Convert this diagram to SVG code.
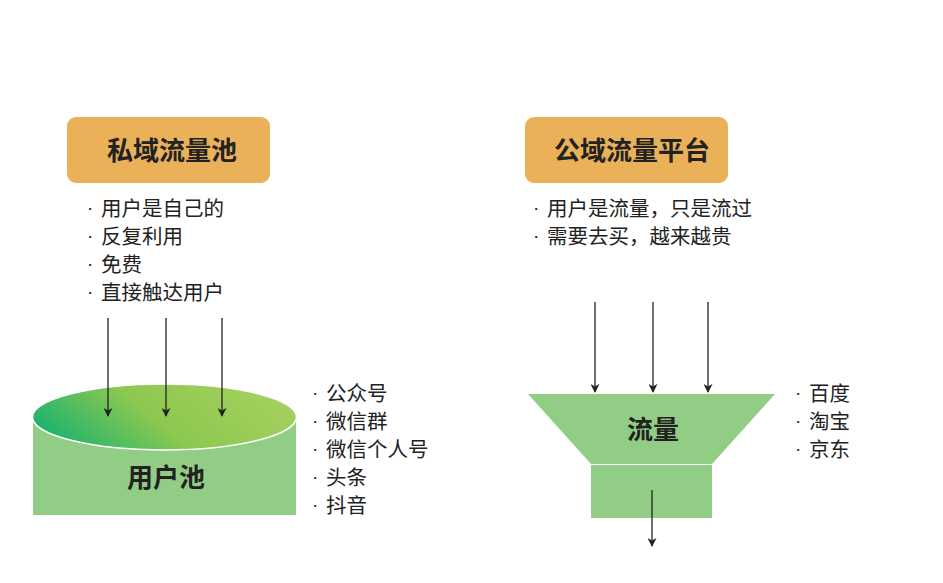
<svg xmlns="http://www.w3.org/2000/svg" width="943" height="583" viewBox="0 0 943 583">
<style>
text{font-family:"Noto Sans CJK SC","Noto Sans",sans-serif;fill:#222}
.h{font-size:26px;font-weight:bold}
.l{font-size:20.5px}
.b{font-size:19px;font-family:"Liberation Sans",sans-serif}
.c{stroke:#222;stroke-width:1.3;fill:none;marker-end:url(#a)}
.g{fill:#92CD86}
</style>
<defs>
<marker id="a" viewBox="0 0 10 10" refX="9" refY="5" markerWidth="9" markerHeight="9" markerUnits="userSpaceOnUse" orient="auto"><path d="M0,0L10,5L0,10L3,5z" fill="#222"/></marker>
<linearGradient id="gr" x1="0" y1="0.6" x2="1" y2="0.3"><stop offset="0" stop-color="#1BB36E"/><stop offset="0.45" stop-color="#8DC850"/><stop offset="1" stop-color="#A6D15E"/></linearGradient>
</defs>
<rect width="943" height="583" fill="#fff"/>
<g id="private-label"><rect x="67" y="117" width="203" height="66" rx="9" fill="#EBB158"/><text class="h" x="172" y="160" text-anchor="middle">私域流量池</text></g>
<g id="private-list"><text class="b" x="87" y="214">·</text><text class="l" x="101" y="216">用户是自己的</text><text class="b" x="87" y="242">·</text><text class="l" x="101" y="244">反复利用</text><text class="b" x="87" y="270">·</text><text class="l" x="101" y="272">免费</text><text class="b" x="87" y="298">·</text><text class="l" x="101" y="300">直接触达用户</text></g>
<g id="user-pool"><rect class="g" x="33" y="418" width="263" height="97"/><ellipse cx="164.5" cy="417" rx="132" ry="33" fill="url(#gr)" stroke="#fff" stroke-width="1.5"/><text class="h" x="166" y="487" text-anchor="middle">用户池</text></g>
<g id="pool-list"><text class="b" x="312" y="399">·</text><text class="l" x="326" y="401">公众号</text><text class="b" x="312" y="427">·</text><text class="l" x="326" y="429">微信群</text><text class="b" x="312" y="455">·</text><text class="l" x="326" y="457">微信个人号</text><text class="b" x="312" y="483">·</text><text class="l" x="326" y="485">头条</text><text class="b" x="312" y="511">·</text><text class="l" x="326" y="513">抖音</text></g>
<g id="public-label"><rect x="525" y="117" width="203" height="66" rx="9" fill="#EBB158"/><text class="h" x="632" y="160" text-anchor="middle">公域流量平台</text></g>
<g id="public-list"><text class="b" x="533" y="214">·</text><text class="l" x="547" y="216">用户是流量，只是流过</text><text class="b" x="533" y="242">·</text><text class="l" x="547" y="244">需要去买，越来越贵</text></g>
<g id="funnel"><polygon class="g" points="528,394 775,394 712,464 591,464"/><rect class="g" x="591" y="465" width="121" height="53"/><text class="h" x="653" y="439" text-anchor="middle">流量</text></g>
<g id="funnel-list"><text class="b" x="795" y="399">·</text><text class="l" x="809" y="401">百度</text><text class="b" x="795" y="427">·</text><text class="l" x="809" y="429">淘宝</text><text class="b" x="795" y="455">·</text><text class="l" x="809" y="457">京东</text></g>
<g id="connectors">
<line class="c" x1="108" y1="318" x2="108" y2="416"/><line class="c" x1="166" y1="318" x2="166" y2="416"/><line class="c" x1="222" y1="318" x2="222" y2="416"/>
<line class="c" x1="595" y1="302" x2="595" y2="392"/><line class="c" x1="653" y1="302" x2="653" y2="392"/><line class="c" x1="708" y1="302" x2="708" y2="392"/>
<line class="c" x1="652" y1="490" x2="652" y2="546"/>
</g>
</svg>
